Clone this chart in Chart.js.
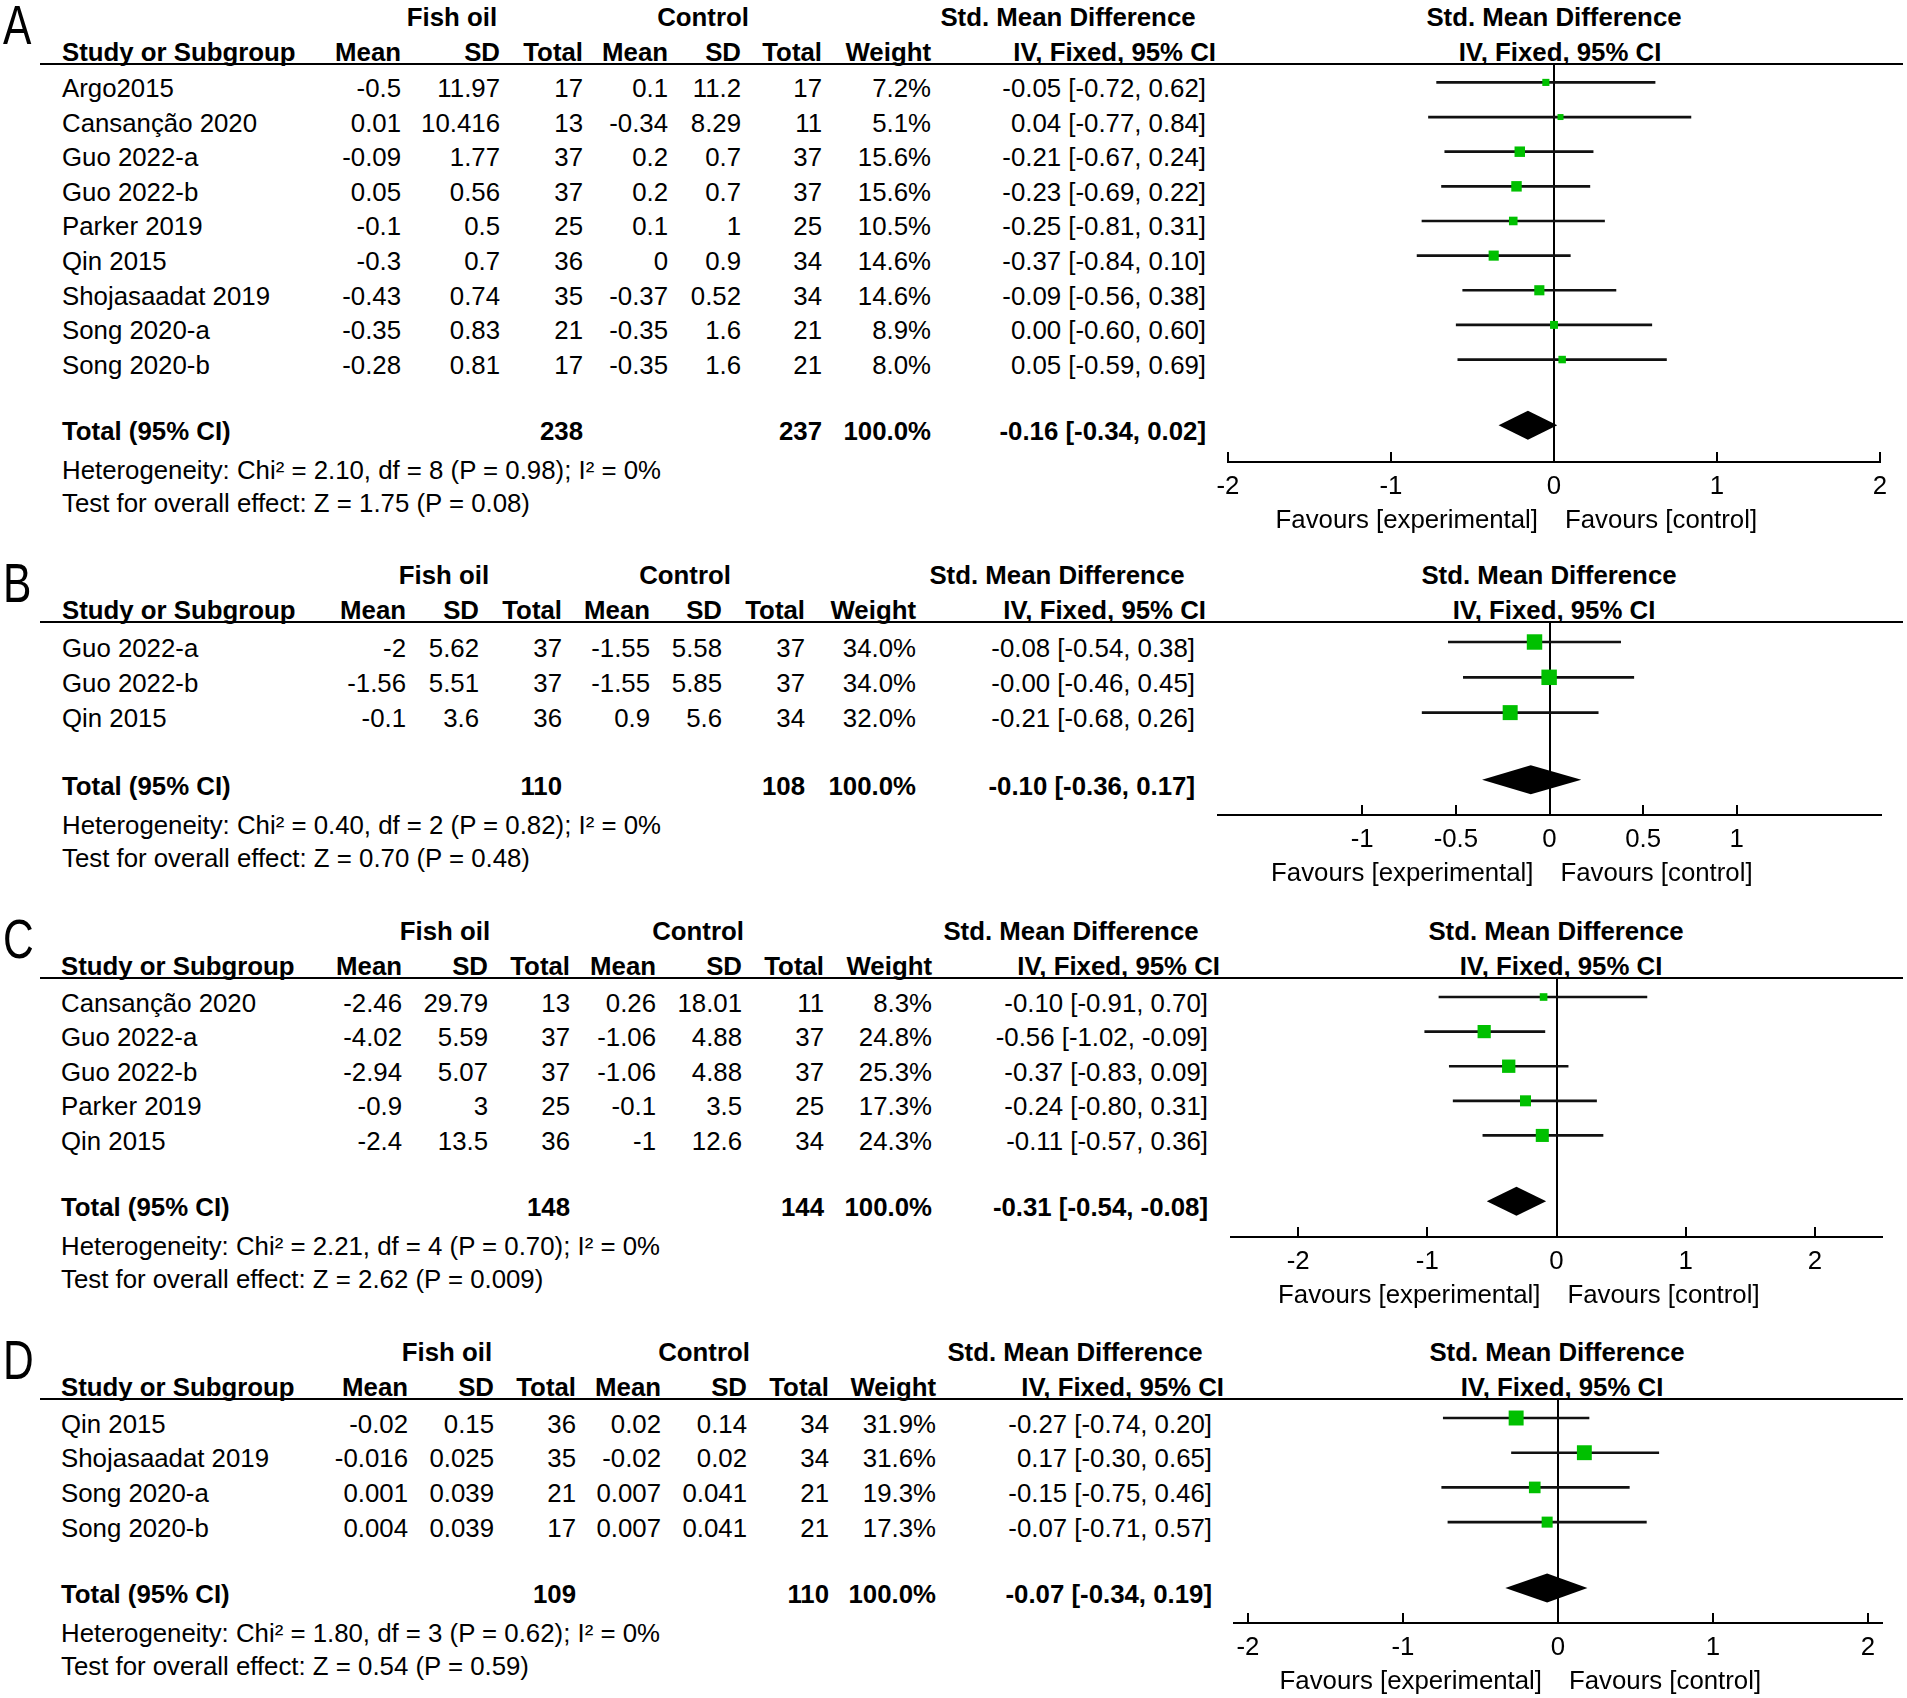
<!DOCTYPE html>
<html>
<head>
<meta charset="utf-8">
<title>Forest plots: fish oil vs control</title>
<script src="https://cdn.jsdelivr.net/npm/chart.js@4.4.1/dist/chart.umd.min.js"></script>
<style>
  html, body { margin: 0; padding: 0; background: #fff; }
  #page { position: relative; width: 1907px; height: 1698px; overflow: hidden; background: #fff;
          font-family: 'Liberation Sans', Arial, sans-serif; color: #000; }
  .t { position: absolute; white-space: nowrap; line-height: 1; font-size: 25.8px; }
  .b { font-weight: bold; }
  .rule { position: absolute; height: 2px; background: #000; }
  .letter { position: absolute; font-size: 56px; line-height: 1; transform-origin: left center; }
  canvas { position: absolute; }
</style>
</head>
<body>
<div id="page"></div>
<script>
// ---- panel A ----
const studiesA = ['Argo2015', 'Cansanção 2020', 'Guo 2022-a', 'Guo 2022-b', 'Parker 2019', 'Qin 2015', 'Shojasaadat 2019', 'Song 2020-a', 'Song 2020-b'];
const fishMeanA = [-0.5, 0.01, -0.09, 0.05, -0.1, -0.3, -0.43, -0.35, -0.28];
const fishSdA = [11.97, 10.416, 1.77, 0.56, 0.5, 0.7, 0.74, 0.83, 0.81];
const fishNA = [17, 13, 37, 37, 25, 36, 35, 21, 17];
const ctrlMeanA = [0.1, -0.34, 0.2, 0.2, 0.1, 0, -0.37, -0.35, -0.35];
const ctrlSdA = [11.2, 8.29, 0.7, 0.7, 1, 0.9, 0.52, 1.6, 1.6];
const ctrlNA = [17, 11, 37, 37, 25, 34, 34, 21, 21];
const weightA = [7.2, 5.1, 15.6, 15.6, 10.5, 14.6, 14.6, 8.9, 8.0];
const smdA = [-0.05, 0.04, -0.21, -0.23, -0.25, -0.37, -0.09, 0.00, 0.05];
const lowA = [-0.72, -0.77, -0.67, -0.69, -0.81, -0.84, -0.56, -0.60, -0.59];
const highA = [0.62, 0.84, 0.24, 0.22, 0.31, 0.10, 0.38, 0.60, 0.69];
const totalNA = [238, 237];
const pooledA = [-0.16, -0.34, 0.02];
const ticksA = [-2, -1, 0, 1, 2];
const statsA = ['Heterogeneity: Chi² = 2.10, df = 8 (P = 0.98); I² = 0%', 'Test for overall effect: Z = 1.75 (P = 0.08)'];

// ---- panel B ----
const studiesB = ['Guo 2022-a', 'Guo 2022-b', 'Qin 2015'];
const fishMeanB = [-2, -1.56, -0.1];
const fishSdB = [5.62, 5.51, 3.6];
const fishNB = [37, 37, 36];
const ctrlMeanB = [-1.55, -1.55, 0.9];
const ctrlSdB = [5.58, 5.85, 5.6];
const ctrlNB = [37, 37, 34];
const weightB = [34.0, 34.0, 32.0];
const smdB = [-0.08, -0.002, -0.21];
const lowB = [-0.54, -0.46, -0.68];
const highB = [0.38, 0.45, 0.26];
const totalNB = [110, 108];
const pooledB = [-0.10, -0.36, 0.17];
const ticksB = [-1, -0.5, 0, 0.5, 1];
const statsB = ['Heterogeneity: Chi² = 0.40, df = 2 (P = 0.82); I² = 0%', 'Test for overall effect: Z = 0.70 (P = 0.48)'];

// ---- panel C ----
const studiesC = ['Cansanção 2020', 'Guo 2022-a', 'Guo 2022-b', 'Parker 2019', 'Qin 2015'];
const fishMeanC = [-2.46, -4.02, -2.94, -0.9, -2.4];
const fishSdC = [29.79, 5.59, 5.07, 3, 13.5];
const fishNC = [13, 37, 37, 25, 36];
const ctrlMeanC = [0.26, -1.06, -1.06, -0.1, -1];
const ctrlSdC = [18.01, 4.88, 4.88, 3.5, 12.6];
const ctrlNC = [11, 37, 37, 25, 34];
const weightC = [8.3, 24.8, 25.3, 17.3, 24.3];
const smdC = [-0.10, -0.56, -0.37, -0.24, -0.11];
const lowC = [-0.91, -1.02, -0.83, -0.80, -0.57];
const highC = [0.70, -0.09, 0.09, 0.31, 0.36];
const totalNC = [148, 144];
const pooledC = [-0.31, -0.54, -0.08];
const ticksC = [-2, -1, 0, 1, 2];
const statsC = ['Heterogeneity: Chi² = 2.21, df = 4 (P = 0.70); I² = 0%', 'Test for overall effect: Z = 2.62 (P = 0.009)'];

// ---- panel D ----
const studiesD = ['Qin 2015', 'Shojasaadat 2019', 'Song 2020-a', 'Song 2020-b'];
const fishMeanD = [-0.02, -0.016, 0.001, 0.004];
const fishSdD = [0.15, 0.025, 0.039, 0.039];
const fishND = [36, 35, 21, 17];
const ctrlMeanD = [0.02, -0.02, 0.007, 0.007];
const ctrlSdD = [0.14, 0.02, 0.041, 0.041];
const ctrlND = [34, 34, 21, 21];
const weightD = [31.9, 31.6, 19.3, 17.3];
const smdD = [-0.27, 0.17, -0.15, -0.07];
const lowD = [-0.74, -0.30, -0.75, -0.71];
const highD = [0.20, 0.65, 0.46, 0.57];
const totalND = [109, 110];
const pooledD = [-0.07, -0.34, 0.19];
const ticksD = [-2, -1, 0, 1, 2];
const statsD = ['Heterogeneity: Chi² = 1.80, df = 3 (P = 0.62); I² = 0%', 'Test for overall effect: Z = 0.54 (P = 0.59)'];

const FONT = "'Liberation Sans', Arial, sans-serif";
const GREEN = '#00c000';
const page = document.getElementById('page');

function put(x, y, str, align, bold) {
  const el = document.createElement('div');
  el.className = 't' + (bold ? ' b' : '');
  el.textContent = str;
  el.style.left = x + 'px';
  el.style.top = y + 'px';
  const tx = align === 'right' ? '-100%' : align === 'center' ? '-50%' : '0';
  el.style.transform = 'translate(' + tx + ', -50%)';
  page.appendChild(el);
}

const f2 = v => v.toFixed(2);
const ciText = (e, l, h) => f2(e) + ' [' + f2(l) + ', ' + f2(h) + ']';

// layout per panel: rule y, first row y, row step, axis y, x extent of the plot
const panels = [
  { letter: 'A', studies: studiesA, fm: fishMeanA, fs: fishSdA, fn: fishNA, cm: ctrlMeanA, cs: ctrlSdA, cn: ctrlNA,
    w: weightA, smd: smdA, lo: lowA, hi: highA, totN: totalNA, pooled: pooledA, ticks: ticksA, stats: statsA, range: 2,
    lay: { lineY: 64, firstY: 82.4, step: 34.64, axisY: 462, plotL: 1228, plotR: 1880 },
    cols: { studyL: 62, meanR: 401, sdR: 500, totR: 583, cmeanR: 668, csdR: 741, ctotR: 822, wR: 931, ciR: 1206, ivR: 1216,
            fishC: 452, ctrlC: 703, smdC: 1068, rSmdC: 1554, rIvC: 1560 } },
  { letter: 'B', studies: studiesB, fm: fishMeanB, fs: fishSdB, fn: fishNB, cm: ctrlMeanB, cs: ctrlSdB, cn: ctrlNB,
    w: weightB, smd: smdB, lo: lowB, hi: highB, totN: totalNB, pooled: pooledB, ticks: ticksB, stats: statsB, range: 1.77,
    lay: { lineY: 622, firstY: 642, step: 35.3, axisY: 815, plotL: 1218, plotR: 1881 },
    cols: { studyL: 62, meanR: 406, sdR: 479, totR: 562, cmeanR: 650, csdR: 722, ctotR: 805, wR: 916, ciR: 1195, ivR: 1206,
            fishC: 444, ctrlC: 685, smdC: 1057, rSmdC: 1549, rIvC: 1554 } },
  { letter: 'C', studies: studiesC, fm: fishMeanC, fs: fishSdC, fn: fishNC, cm: ctrlMeanC, cs: ctrlSdC, cn: ctrlNC,
    w: weightC, smd: smdC, lo: lowC, hi: highC, totN: totalNC, pooled: pooledC, ticks: ticksC, stats: statsC, range: 2.52,
    lay: { lineY: 978, firstY: 997, step: 34.6, axisY: 1237, plotL: 1231, plotR: 1882 },
    cols: { studyL: 61, meanR: 402, sdR: 488, totR: 570, cmeanR: 656, csdR: 742, ctotR: 824, wR: 932, ciR: 1208, ivR: 1220,
            fishC: 445, ctrlC: 698, smdC: 1071, rSmdC: 1556, rIvC: 1561 } },
  { letter: 'D', studies: studiesD, fm: fishMeanD, fs: fishSdD, fn: fishND, cm: ctrlMeanD, cs: ctrlSdD, cn: ctrlND,
    w: weightD, smd: smdD, lo: lowD, hi: highD, totN: totalND, pooled: pooledD, ticks: ticksD, stats: statsD, range: 2.09,
    lay: { lineY: 1399, firstY: 1418, step: 34.7, axisY: 1623, plotL: 1234, plotR: 1882 },
    cols: { studyL: 61, meanR: 408, sdR: 494, totR: 576, cmeanR: 661, csdR: 747, ctotR: 829, wR: 936, ciR: 1212, ivR: 1224,
            fishC: 447, ctrlC: 704, smdC: 1075, rSmdC: 1557, rIvC: 1562 } }
];

// diamond for the pooled estimate + inward tick marks on the axis
function forestPlugin(p, totalIdx) {
  return {
    id: 'forest' + p.letter,
    afterDatasetsDraw(chart) {
      const { ctx, chartArea } = chart;
      const x = chart.scales.x, y = chart.scales.y;
      const yc = y.getPixelForValue(totalIdx);
      ctx.save();
      ctx.fillStyle = '#000';
      ctx.beginPath();
      ctx.moveTo(x.getPixelForValue(p.pooled[1]), yc);
      ctx.lineTo(x.getPixelForValue(p.pooled[0]), yc - 14.5);
      ctx.lineTo(x.getPixelForValue(p.pooled[2]), yc);
      ctx.lineTo(x.getPixelForValue(p.pooled[0]), yc + 14.5);
      ctx.closePath();
      ctx.fill();
      ctx.strokeStyle = '#000';
      ctx.lineWidth = 2;
      x.ticks.forEach(t => {
        const px = Math.round(x.getPixelForValue(t.value));
        ctx.beginPath();
        ctx.moveTo(px, chartArea.bottom);
        ctx.lineTo(px, chartArea.bottom - 10);
        ctx.stroke();
      });
      ctx.restore();
    }
  };
}

function drawPanel(p) {
  const L = p.lay, C = p.cols;
  const n = p.studies.length;
  const rowY = i => L.firstY + i * L.step;
  const totalIdx = n - 1 + 1.9;

  const letter = document.createElement('div');
  letter.className = 'letter';
  letter.textContent = p.letter;
  letter.style.left = '3px';
  letter.style.top = (L.lineY - 39) + 'px';
  letter.style.transform = 'translate(0, -50%) scaleX(0.76)';
  page.appendChild(letter);

  // header rows
  const h1 = L.lineY - 46, h2 = L.lineY - 11;
  put(C.fishC, h1, 'Fish oil', 'center', true);
  put(C.ctrlC, h1, 'Control', 'center', true);
  put(C.smdC, h1, 'Std. Mean Difference', 'center', true);
  put(C.rSmdC, h1, 'Std. Mean Difference', 'center', true);
  put(C.studyL, h2, 'Study or Subgroup', 'left', true);
  put(C.meanR, h2, 'Mean', 'right', true);
  put(C.sdR, h2, 'SD', 'right', true);
  put(C.totR, h2, 'Total', 'right', true);
  put(C.cmeanR, h2, 'Mean', 'right', true);
  put(C.csdR, h2, 'SD', 'right', true);
  put(C.ctotR, h2, 'Total', 'right', true);
  put(C.wR, h2, 'Weight', 'right', true);
  put(C.ivR, h2, 'IV, Fixed, 95% CI', 'right', true);
  put(C.rIvC, h2, 'IV, Fixed, 95% CI', 'center', true);

  const rule = document.createElement('div');
  rule.className = 'rule';
  rule.style.left = '40px';
  rule.style.width = '1863px';
  rule.style.top = (L.lineY - 1) + 'px';
  page.appendChild(rule);

  // study rows
  p.studies.forEach((s, i) => {
    const y = rowY(i) + 6.5;
    put(C.studyL, y, s, 'left');
    put(C.meanR, y, String(p.fm[i]), 'right');
    put(C.sdR, y, String(p.fs[i]), 'right');
    put(C.totR, y, String(p.fn[i]), 'right');
    put(C.cmeanR, y, String(p.cm[i]), 'right');
    put(C.csdR, y, String(p.cs[i]), 'right');
    put(C.ctotR, y, String(p.cn[i]), 'right');
    put(C.wR, y, p.w[i].toFixed(1) + '%', 'right');
    put(C.ciR, y, ciText(p.smd[i], p.lo[i], p.hi[i]), 'right');
  });

  const ty = rowY(totalIdx) + 7;
  put(C.studyL, ty, 'Total (95% CI)', 'left', true);
  put(C.totR, ty, String(p.totN[0]), 'right', true);
  put(C.ctotR, ty, String(p.totN[1]), 'right', true);
  put(C.wR, ty, '100.0%', 'right', true);
  put(C.ciR, ty, ciText(p.pooled[0], p.pooled[1], p.pooled[2]), 'right', true);
  put(C.studyL, ty + 39, p.stats[0], 'left');
  put(C.studyL, ty + 72, p.stats[1], 'left');

  // forest plot
  const left = 1200, W = 707;
  const plotH = L.axisY - L.lineY;
  let H = plotH + 74;
  const canvas = document.createElement('canvas');
  canvas.width = W; canvas.height = H;
  canvas.style.left = left + 'px';
  canvas.style.top = L.lineY + 'px';
  canvas.style.width = W + 'px';
  canvas.style.height = H + 'px';
  page.appendChild(canvas);

  const yMin = (L.lineY - L.firstY) / L.step;
  const yMax = (L.axisY - L.firstY) / L.step;

  const chart = new Chart(canvas, {
    type: 'scatter',
    data: {
      datasets: [
        {
          type: 'scatter', order: 0,
          data: p.smd.map((v, i) => ({ x: v, y: i })),
          pointStyle: 'rect',
          backgroundColor: GREEN, borderColor: GREEN, borderWidth: 0,
          pointRadius: p.w.map(w => 2.65 * Math.sqrt(w) / Math.SQRT2),
          pointHoverRadius: p.w.map(w => 2.65 * Math.sqrt(w) / Math.SQRT2)
        },
        {
          type: 'bar', order: 1, indexAxis: 'y',
          data: p.lo.map((l, i) => ({ x: [l, p.hi[i]], y: i })),
          backgroundColor: '#111', borderWidth: 0, barThickness: 2
        }
      ]
    },
    options: {
      responsive: false,
      maintainAspectRatio: false,
      animation: false,
      events: [],
      layout: { autoPadding: false,
                padding: { left: L.plotL - left, right: left + W - L.plotR, top: 0, bottom: 33 } },
      plugins: { legend: { display: false }, tooltip: { enabled: false } },
      scales: {
        x: {
          type: 'linear', min: -p.range, max: p.range, bounds: 'data', offset: false,
          afterBuildTicks: s => { s.ticks = p.ticks.map(v => ({ value: v })); },
          ticks: { autoSkip: false, maxRotation: 0, padding: 9, color: '#000',
                   font: { family: FONT, size: 25.8 }, callback: v => String(v) },
          grid: { offset: false, drawTicks: false, lineWidth: 2,
                  color: c => (c.tick && c.tick.value === 0) ? '#000' : 'rgba(0,0,0,0)' },
          border: { display: true, color: '#000', width: 2 }
        },
        y: { type: 'linear', display: false, reverse: true, min: yMin, max: yMax, bounds: 'data',
             offset: false, grid: { offset: false } }
      }
    },
    plugins: [forestPlugin(p, totalIdx)]
  });

  // grow the canvas so the axis line sits exactly at the wanted height
  const extra = plotH - chart.chartArea.bottom;
  if (Math.abs(extra) > 0.5) {
    H += extra;
    chart.resize(W, H);
  }

  // favours labels around the line of no effect
  const z = left + chart.scales.x.getPixelForValue(0);
  const fy = L.lineY + chart.chartArea.bottom + 58;
  put(z - 16, fy, 'Favours [experimental]', 'right');
  put(z + 11, fy, 'Favours [control]', 'left');
}

panels.forEach(drawPanel);
</script>
</body>
</html>
